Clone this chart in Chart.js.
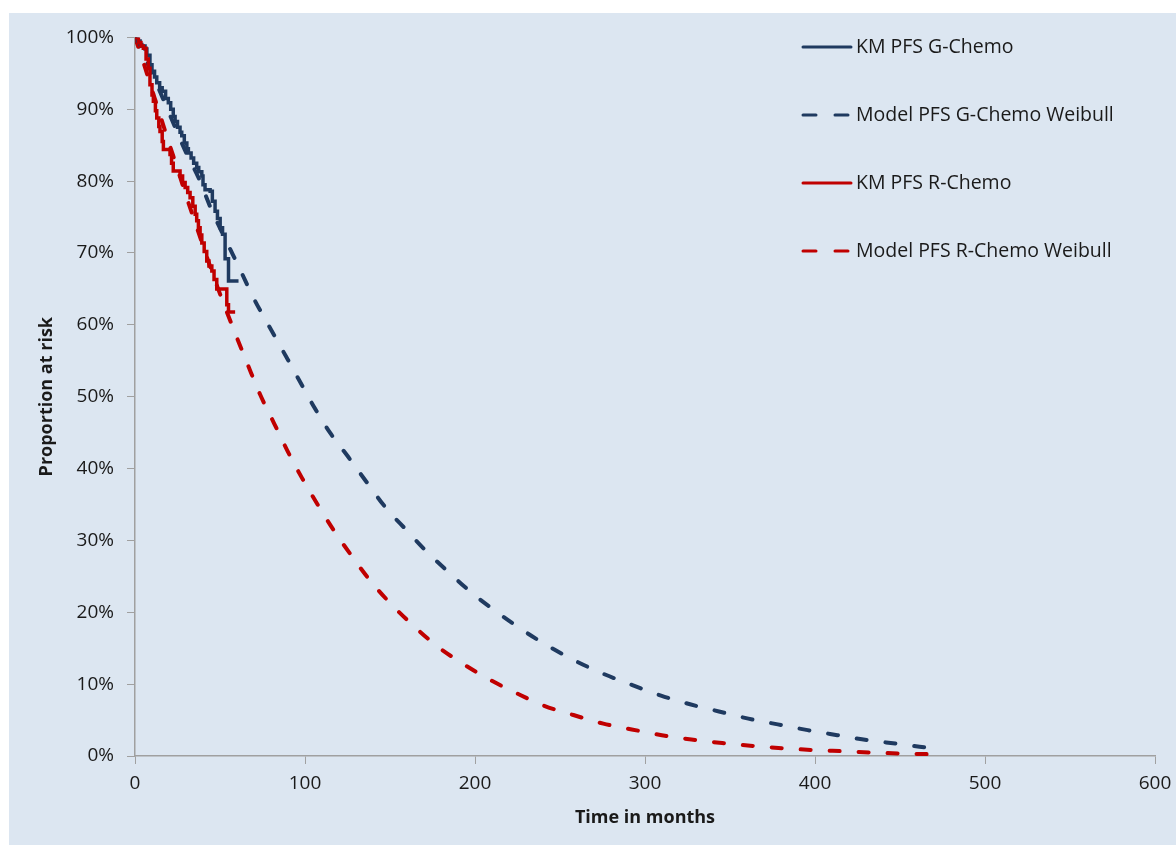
<!DOCTYPE html>
<html>
<head>
<meta charset="utf-8">
<script src="https://cdn.jsdelivr.net/npm/chart.js@4"></script>
<style>
html, body { margin: 0; padding: 0; background: #ffffff; }
#panel { position: absolute; left: 9px; top: 13px; width: 1167px; height: 832px; background: #dce6f1; }
</style>
</head>
<body>
<div id="panel"><canvas id="pfsChart" width="1167" height="832"></canvas></div>
<script>
// Kaplan-Meier PFS, G-Chemo (months, % at risk)
const gKmTime = [0, 1.5, 3, 4, 5.9, 7, 8.8, 10, 11.5, 12.8, 14.5, 16, 18, 19.6, 21, 22.5, 23.6, 25, 26.5, 27.5, 29, 30.5, 31.4, 33, 34.5, 36.3, 37.5, 39.3, 40, 41.2, 44.2, 45.5, 47.1, 48.5, 50.1, 51.5, 53, 55, 60.9];
const gKmSurv = [100, 99.5, 99, 98.8, 98.4, 97.5, 96.2, 95.3, 94.5, 93.7, 93, 92.5, 91.5, 90.9, 90, 89, 88.3, 87.5, 86.8, 86.3, 85.3, 84.5, 83.9, 83.2, 82.5, 81.9, 81.3, 80.7, 79.5, 78.8, 78.6, 77.2, 75.8, 74.8, 73.5, 72.6, 69.2, 66.1, 66.1];

// Kaplan-Meier PFS, R-Chemo
const rKmTime = [0, 2, 3.5, 4.9, 6.5, 7.8, 8.8, 10, 10.8, 12, 12.8, 14, 14.7, 16, 16.7, 20.6, 21.5, 22.5, 26.5, 28, 29.5, 31, 32.4, 34, 35.4, 36.3, 37.3, 38.3, 39.3, 40.7, 42.2, 43.5, 45.2, 46.5, 48.1, 54, 55, 58.9];
const rKmSurv = [100, 99.3, 98.8, 98.5, 97, 95.7, 93.4, 92, 91.1, 89.8, 88.8, 87.6, 86.9, 85.5, 84.4, 83.7, 82.5, 81.4, 80.7, 79.8, 79.1, 78.4, 77.7, 76.5, 75.4, 74.5, 73.5, 72.5, 71.4, 70.2, 68.9, 68.2, 67.5, 66.3, 65, 62.8, 61.8, 61.8];

// Weibull model PFS, G-Chemo
const gModelTime = [0, 10, 20, 30, 37.3, 45, 53.6, 61.8, 69.6, 78.4, 87.2, 96.1, 104.9, 114.7, 125.5, 136.3, 147, 159.4, 172.2, 185.3, 198.6, 213.1, 227.5, 243.1, 259.4, 275.9, 292.2, 309.4, 326.5, 343.5, 360.8, 378.1, 395.7, 413.1, 431, 448.6, 466.6, 472];
const gModelSurv = [100, 95, 89.5, 84, 80.5, 76, 71.7, 67.7, 63.8, 60, 56.3, 52.5, 48.75, 45, 41.6, 38.1, 34.7, 31.5, 28.3, 25.4, 22.6, 20, 17.6, 15.3, 13.2, 11.4, 9.9, 8.4, 7.2, 6.2, 5.2, 4.4, 3.6, 2.9, 2.2, 1.7, 1.15, 1.05];

// Weibull model PFS, R-Chemo
const rModelTime = [0, 5, 10, 15, 20, 25, 30, 35, 40, 45, 50, 55, 59.8, 66.6, 73.6, 81.8, 89.6, 98.2, 107.4, 117.2, 127.6, 138.7, 150.8, 163.9, 177.6, 192.4, 208.1, 223.9, 240.6, 257.9, 275.5, 292.2, 309.9, 327.3, 345.4, 363.4, 381.3, 399.3, 417.6, 435.5, 453.7, 471.6, 476];
const rModelSurv = [100, 96.5, 92.7, 89, 85.3, 81.7, 78, 74.5, 71, 67.6, 64.3, 61.2, 58.3, 54.3, 50.3, 46.3, 42.5, 38.7, 35, 31.3, 27.8, 24.3, 21.1, 18.1, 15.3, 12.9, 10.7, 8.8, 7, 5.7, 4.5, 3.7, 2.9, 2.3, 1.8, 1.4, 1.07, 0.83, 0.65, 0.46, 0.33, 0.23, 0.2];

const blue = "#1f3a60";
const red = "#c00000";
const axisGrey = "#a0a0a0";

function toPoints(xs, ys) {
	return xs.map((x, i) => ({ x: x, y: ys[i] }));
}

// legend drawn inside the plot, top right, one entry per row
const legendLines = {
	id: "legendLines",
	afterDraw(chart) {
		const ctx = chart.ctx;
		ctx.save();
		chart.data.datasets.forEach((ds, i) => {
			const y = 34 + i * 68;
			ctx.beginPath();
			ctx.strokeStyle = ds.borderColor;
			ctx.lineWidth = 3;
			ctx.lineCap = "round";
			ctx.setLineDash(ds.borderDash ? [13, 19] : []);
			ctx.moveTo(794, y);
			ctx.lineTo(842, y);
			ctx.stroke();
			ctx.setLineDash([]);
			ctx.fillStyle = "#1a1a1a";
			ctx.font = '19.5px "Open Sans"';
			ctx.textBaseline = "middle";
			ctx.textAlign = "left";
			ctx.fillText(ds.label, 847, y);
		});
		ctx.restore();
	},
};

Chart.defaults.font.family = '"Open Sans", sans-serif';
Chart.defaults.color = "#1a1a1a";

const canvaPfs = document.getElementById("pfsChart").getContext("2d");
const pfsChart = new Chart(canvaPfs, {
	type: "line",
	data: {
		datasets: [
			{
				label: "KM PFS G-Chemo",
				data: toPoints(gKmTime, gKmSurv),
				borderColor: blue,
				borderWidth: 3.5,
				stepped: "before",
				pointRadius: 0,
				order: 1,
			},
			{
				label: "Model PFS G-Chemo Weibull",
				data: toPoints(gModelTime, gModelSurv),
				borderColor: blue,
				borderWidth: 4,
				borderDash: [10, 19],
				borderCapStyle: "round",
				cubicInterpolationMode: "monotone",
				pointRadius: 0,
				order: 3,
			},
			{
				label: "KM PFS R-Chemo",
				data: toPoints(rKmTime, rKmSurv),
				borderColor: red,
				borderWidth: 3.5,
				stepped: "before",
				pointRadius: 0,
				order: 0,
			},
			{
				label: "Model PFS R-Chemo Weibull",
				data: toPoints(rModelTime, rModelSurv),
				borderColor: red,
				borderWidth: 4,
				borderDash: [10, 19],
				borderCapStyle: "round",
				cubicInterpolationMode: "monotone",
				pointRadius: 0,
				order: 2,
			},
		],
	},
	options: {
		responsive: false,
		animation: false,
		layout: { padding: { top: 23, right: 21, left: 0, bottom: 0 } },
		plugins: {
			legend: { display: false },
			tooltip: { enabled: false },
		},
		scales: {
			x: {
				type: "linear",
				min: 0,
				max: 600,
				ticks: { stepSize: 100, font: { size: 19 }, padding: 8, maxRotation: 0 },
				grid: { drawOnChartArea: false, tickLength: 8, tickColor: axisGrey },
				border: { color: axisGrey, width: 1.5 },
				title: {
					display: true,
					text: "Time in months",
					font: { size: 18, weight: "bold" },
					padding: { top: 0, bottom: 16 },
				},
				afterFit(scale) {
					scale.height = 89;
					scale.paddingRight = 0;
				},
			},
			y: {
				min: 0,
				max: 100,
				ticks: {
					stepSize: 10,
					font: { size: 19 },
					padding: 13,
					callback: (v) => v + "%",
				},
				grid: { drawOnChartArea: false, tickLength: 8, tickColor: axisGrey },
				border: { color: axisGrey, width: 1.5 },
				title: {
					display: true,
					text: "Proportion at risk",
					font: { size: 18, weight: "bold" },
					padding: { top: 27, bottom: 0 },
				},
				afterFit(scale) {
					scale.width = 126;
				},
			},
		},
	},
	plugins: [legendLines],
});
</script>
</body>
</html>
